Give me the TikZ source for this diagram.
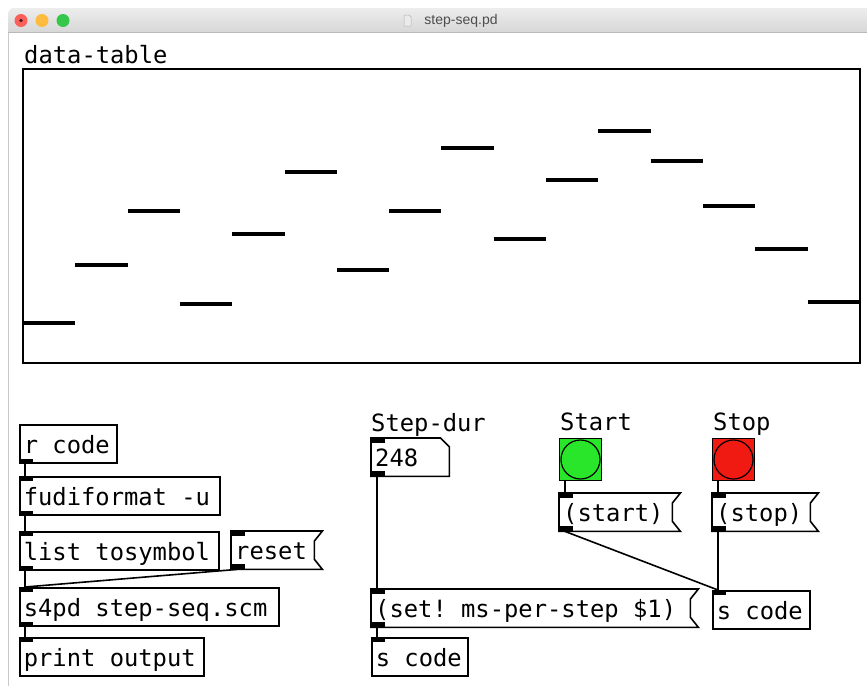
\documentclass[tikz,border=0pt]{standalone}
\usepackage{fontspec}
\setmainfont{Liberation Sans}
\setmonofont{DejaVu Sans Mono}
\usetikzlibrary{calc}

\definecolor{frame}{HTML}{C9C9C9}
\definecolor{barTop}{HTML}{EDEDED}
\definecolor{barBot}{HTML}{D7D7D7}
\definecolor{barLine}{HTML}{B9B9B9}
\definecolor{closeRed}{HTML}{FC605C}
\definecolor{minYellow}{HTML}{FDBC40}
\definecolor{zoomGreen}{HTML}{34C84A}
\definecolor{titleGray}{HTML}{4D4D4D}
\definecolor{bangGreen}{HTML}{2AE62A}
\definecolor{bangRed}{HTML}{F01A12}

\newcommand\pdfont{\ttfamily\fontsize{23.8}{28}\selectfont}
% one full character cell of blank space
\newcommand\pdsp{\kern0.602em\relax}

\begin{document}
\begin{tikzpicture}[x=1pt,y=-1pt,
  pdline/.style={line width=1.6pt, line join=miter},
  pdbase/.style={anchor=north west, inner xsep=4pt, inner ysep=0pt,
    text height=28.5pt, text depth=9.5pt, font=\pdfont},
  pdobj/.style={pdbase, draw, pdline, text width=#1},
  pdmsg/.style={pdbase, text width=#1},
  pdlabel/.style={anchor=base west, inner sep=0pt, font=\pdfont},
  bangbox/.style={anchor=north west, draw, line width=1pt, minimum size=42pt, inner sep=0pt},
  conn/.style={line width=1.6pt},
  iolet/.style={fill=black},
  tbar/.style={line width=4pt}
]
\useasboundingbox (0,0) rectangle (867,686);
\fill[white] (0,0) rectangle (867,686);

% window frame and title bar
\draw[frame, line width=1.5pt] (8.5,14) -- (8.5,686);
\shade[top color=barTop, bottom color=barBot]
  (8,32) -- (8,14) arc[start angle=180, end angle=90, radius=6pt] -- (867,8) -- (867,32) -- cycle;
\draw[barLine, line width=1pt] (8,32.5) -- (867,32.5);
\fill[closeRed] (21,20.5) circle[radius=6.5pt];
\fill[black!70!closeRed] (21,20.5) circle[radius=1.8pt];
\fill[minYellow] (42,20.5) circle[radius=6.5pt];
\fill[zoomGreen] (63,20.5) circle[radius=6.5pt];
\filldraw[fill=black!8, draw=black!30, line width=0.5pt] (404,15) -- (409,15) -- (411,17) -- (411,26) -- (404,26) -- cycle;
\node[font=\rmfamily\fontsize{14}{16}\selectfont, text=titleGray, inner sep=0pt] (title) at (461,20.5) {step-seq.pd};

% array graph
\node[pdlabel] (tablabel) at (24,63) {data-table};
\draw[line width=2pt] (23,69) rectangle (860,363);
\foreach \v [count=\i from 0] in {323,265,211,304,234,172,270,211,148,239,180,131,161,206,249,302} {
  \draw[tbar] ({23+52.31*\i},\v) -- ({23+52.31*(\i+1)},\v);
}

% left chain
\node[pdobj=89pt] (rcode) at (19,424) {r\pdsp code};
\node[pdobj=192pt] (fudi) at (19,476) {fudiformat\pdsp -u};
\node[pdobj=191pt] (tosym) at (19,531) {list\pdsp tosymbol};
\node[pdmsg=83pt] (reset) at (231,531) {reset};
\node[pdobj=251pt] (s4pd) at (19,587) {s4pd\pdsp step-seq.scm};
\node[pdobj=176pt] (print) at (19,637) {print\pdsp output};

% middle and right
\node[pdlabel] (durlabel) at (371,431) {Step-dur};
\node[pdmsg=70pt] (dur) at (371,438) {248};
\node[pdmsg=319pt] (setmsg) at (371,589) {(set!\pdsp ms-per-step\pdsp \$1)};
\node[pdobj=88pt] (scodeA) at (371,637) {s\pdsp code};

\node[pdlabel] (startlabel) at (560,430) {Start};
\node[bangbox, fill=bangGreen] (startbang) at (559,438) {};
\draw[line width=1.2pt, fill=bangGreen] (startbang.center) circle[radius=19.5pt];
\node[pdmsg=113pt] (startmsg) at (559,493) {(start)};

\node[pdlabel] (stoplabel) at (713,430) {Stop};
\node[bangbox, fill=bangRed] (stopbang) at (712,438) {};
\draw[line width=1.2pt, fill=bangRed] (stopbang.center) circle[radius=19.5pt];
\node[pdmsg=98pt] (stopmsg) at (712,493) {(stop)};
\node[pdobj=89pt] (scodeB) at (712,590) {s\pdsp code};

% message box outlines
\foreach \m in {reset,setmsg,startmsg,stopmsg} {
  \draw[pdline] (\m.north west) -- (\m.north east) -- ++(-8,10)
    -- ($(\m.south east)+(-8,-10)$) -- (\m.south east) -- (\m.south west) -- cycle;
}
% number box outline
\draw[pdline] (dur.north west) -- ($(dur.north east)+(-9,0)$) -- ($(dur.north east)+(0,9)$)
  -- (dur.south east) -- (dur.south west) -- cycle;

% inlets
\foreach \n in {fudi,tosym,reset,s4pd,print,dur,setmsg,scodeA,startmsg,stopmsg,scodeB} {
  \fill[iolet] (\n.north west) rectangle ++(14,5);
}
% outlets
\foreach \n in {rcode,fudi,tosym,reset,s4pd,dur,setmsg,startmsg,stopmsg} {
  \fill[iolet] (\n.south west) rectangle ++(14,-5);
}

% connections
\draw[conn] ($(rcode.south west)+(6,0)$) -- ($(fudi.north west)+(6,0)$);
\draw[conn] ($(fudi.south west)+(6,0)$) -- ($(tosym.north west)+(6,0)$);
\draw[conn] ($(tosym.south west)+(6,0)$) -- ($(s4pd.north west)+(6,0)$);
\draw[conn] ($(reset.south west)+(6,0)$) -- ($(s4pd.north west)+(6,0)$);
\draw[conn] ($(s4pd.south west)+(6,0)$) -- ($(print.north west)+(6,0)$);
\draw[conn] ($(dur.south west)+(6,0)$) -- ($(setmsg.north west)+(6,0)$);
\draw[conn] ($(setmsg.south west)+(6,0)$) -- ($(scodeA.north west)+(6,0)$);
\draw[conn] ($(startbang.south west)+(6,0)$) -- ($(startmsg.north west)+(6,0)$);
\draw[conn] ($(startmsg.south west)+(6,0)$) -- ($(scodeB.north west)+(6,0)$);
\draw[conn] ($(stopbang.south west)+(6,0)$) -- ($(stopmsg.north west)+(6,0)$);
\draw[conn] ($(stopmsg.south west)+(6,0)$) -- ($(scodeB.north west)+(6,0)$);
\end{tikzpicture}
\end{document}
